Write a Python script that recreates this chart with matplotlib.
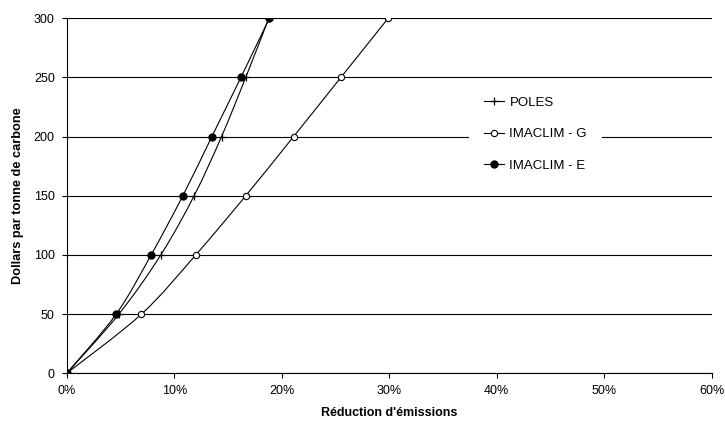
import numpy as np
import matplotlib.pyplot as plt
from matplotlib.path import Path
from matplotlib.patches import PathPatch
from matplotlib.lines import Line2D

plt.rcParams['font.family'] = ['Liberation Sans', 'DejaVu Sans']

# prix du carbone ($/tC)
prix = [0, 50, 100, 150, 200, 250, 300]
# reduction d'emissions (%)
poles = [0, 4.85, 8.75, 11.85, 14.4, 16.65, 18.8]
imaclim_g = [0, 6.95, 12.0, 16.65, 21.1, 25.5, 29.9]
imaclim_e = [0, 4.6, 7.85, 10.8, 13.5, 16.2, 18.85]


def courbe_lisse(ax, x, y):
    # courbe lissee facon Excel (Catmull-Rom en Bezier)
    pts = np.column_stack([x, y]).astype(float)
    n = len(pts)
    verts = [pts[0]]
    codes = [Path.MOVETO]
    for i in range(n - 1):
        p0 = pts[max(i - 1, 0)]
        p1 = pts[i]
        p2 = pts[i + 1]
        p3 = pts[min(i + 2, n - 1)]
        verts += [p1 + (p2 - p0) / 6, p2 - (p3 - p1) / 6, p2]
        codes += [Path.CURVE4] * 3
    ax.add_patch(PathPatch(Path(verts, codes), fill=False, ec='black', lw=0.8, zorder=3))


fig, ax = plt.subplots(figsize=(7.25, 4.24), dpi=100)
fig.subplots_adjust(left=0.092, right=0.9817, bottom=0.1196, top=0.9568)

for x in [poles, imaclim_g, imaclim_e]:
    courbe_lisse(ax, x, prix)

ax.plot(poles, prix, ls='none', marker='+', ms=6, mew=0.9, color='black', zorder=4)
ax.plot(imaclim_g, prix, ls='none', marker='o', ms=4.5, mfc='white', mec='black', mew=0.8, zorder=4)
ax.plot(imaclim_e, prix, ls='none', marker='o', ms=5, mfc='black', mec='black', zorder=4)

ax.set_xlim(0, 60)
ax.set_ylim(0, 300)
ax.set_xticks(range(0, 61, 10))
ax.set_xticklabels([f'{v}%' for v in range(0, 61, 10)])
ax.set_yticks(range(0, 301, 50))
ax.yaxis.grid(True, color='black', lw=0.8)
ax.set_axisbelow(True)
for s in ['top', 'right']:
    ax.spines[s].set_visible(False)
for s in ['left', 'bottom']:
    ax.spines[s].set_linewidth(0.8)
ax.tick_params(axis='both', direction='out', length=3.6, width=0.8, labelsize=9, colors='black', pad=5)

ax.set_xlabel("Réduction d'émissions", fontsize=9, fontweight='bold', labelpad=7)
ax.set_ylabel('Dollars par tonne de carbone', fontsize=9.2, fontweight='bold', labelpad=7)

handles = [
    Line2D([], [], color='black', lw=0.8, marker='+', ms=6, mew=0.9),
    Line2D([], [], color='black', lw=0.8, marker='o', ms=4.5, mfc='white', mec='black', mew=0.8),
    Line2D([], [], color='black', lw=0.8, marker='o', ms=5, mfc='black'),
]
leg = ax.legend(handles, ['POLES', 'IMACLIM - G', 'IMACLIM - E'], loc='upper left',
                bbox_to_anchor=(0.624, 0.822), borderaxespad=0, borderpad=1.15,
                fontsize=9.5, labelspacing=1.45, handlelength=1.45, handletextpad=0.45,
                frameon=True, fancybox=False, framealpha=1, facecolor='white', edgecolor='none')
leg.set_zorder(5)

plt.savefig('out.png', dpi=100)
